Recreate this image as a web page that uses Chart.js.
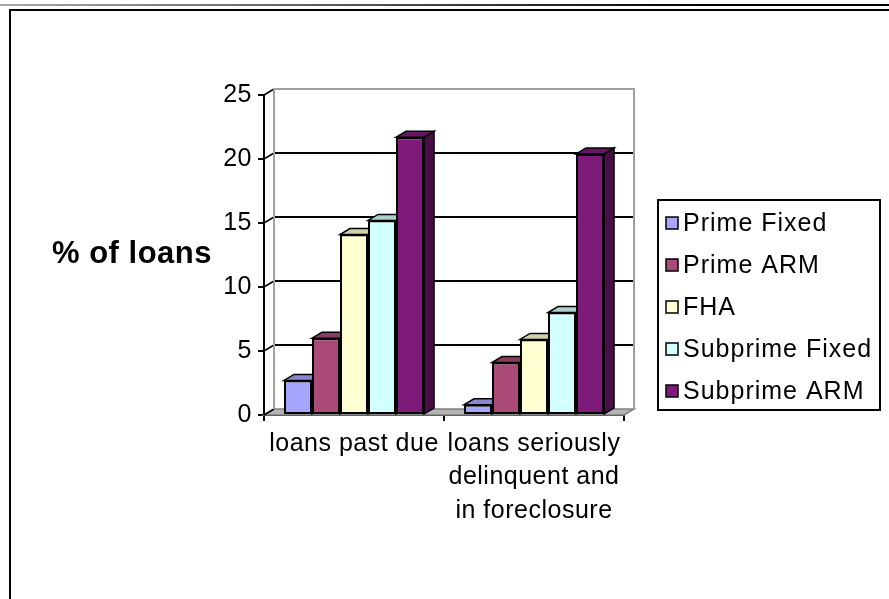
<!DOCTYPE html>
<html>
<head>
<meta charset="utf-8">
<title>Loan delinquency by type</title>
<script src="https://cdn.jsdelivr.net/npm/chart.js@4.4.1/dist/chart.umd.min.js"></script>
<style>
  html, body { margin: 0; padding: 0; background: #fff; overflow: hidden; }
  #wrap { position: relative; width: 889px; height: 599px; }
  #topRule { position: absolute; left: 0; top: 4px; width: 889px; height: 2px;
             background: linear-gradient(to right, #a8a8a8, #000 80%); }
  #frame { position: absolute; left: 9px; top: 9px; width: 900px; height: 620px;
           border-left: 2px solid #000; border-top: 2px solid #000; }
  #chart { position: absolute; left: 0; top: 0; }
</style>
</head>
<body>
<div id="wrap">
  <div id="topRule"></div>
  <div id="frame"></div>
  <canvas id="chart" width="889" height="599"></canvas>
</div>
<script>
// categories and series values (percent of loans)
const categories = [['loans past due'], ['loans seriously', 'delinquent and', 'in foreclosure']];
const seriesNames = ['Prime Fixed', 'Prime ARM', 'FHA', 'Subprime Fixed', 'Subprime ARM'];
const primeFixed = [2.7, 0.8];
const primeArm = [6.0, 4.1];
const fha = [14.1, 5.9];
const subprimeFixed = [15.2, 8.0];
const subprimeArm = [21.7, 20.4];
const yTicks = [0, 5, 10, 15, 20, 25];
const yTitle = '% of loans';

const seriesValues = [primeFixed, primeArm, fha, subprimeFixed, subprimeArm];
const seriesColors = ['#A6A6FF', '#A94A77', '#FFFFD2', '#D2FFFF', '#7E1A7A'];

// depth of the fake 3d extrusion
const DX = 10, DY = -6;
const FONT = '"Liberation Sans", Arial, sans-serif';

function shade(hex, f) {
    const n = parseInt(hex.slice(1), 16);
    const r = Math.round(((n >> 16) & 255) * f);
    const g = Math.round(((n >> 8) & 255) * f);
    const b = Math.round((n & 255) * f);
    return `rgb(${r},${g},${b})`;
}

function poly(ctx, pts, fill, stroke, lw) {
    ctx.beginPath();
    ctx.moveTo(pts[0][0], pts[0][1]);
    for (let i = 1; i < pts.length; i++) ctx.lineTo(pts[i][0], pts[i][1]);
    ctx.closePath();
    if (fill) { ctx.fillStyle = fill; ctx.fill(); }
    if (stroke) { ctx.strokeStyle = stroke; ctx.lineWidth = lw; ctx.stroke(); }
}

// back wall, floor, and top/side faces of the bars
const depthPlugin = {
    id: 'depth',
    beforeDraw(chart) {
        // slightly looser text, like the old office renderer
        chart.ctx.letterSpacing = '0.5px';
    },
    beforeDatasetsDraw(chart) {
        const ctx = chart.ctx;
        const ca = chart.chartArea;
        const y = chart.scales.y;
        ctx.save();

        // floor
        poly(ctx, [[ca.left, ca.bottom], [ca.right, ca.bottom],
                   [ca.right + DX, ca.bottom + DY], [ca.left + DX, ca.bottom + DY]],
             '#b4b4b4', '#808080', 1.5);

        // wall gridlines and the little connectors to the axis
        yTicks.forEach(v => {
            const py = y.getPixelForValue(v);
            ctx.strokeStyle = '#000';
            ctx.lineWidth = 1.5;
            ctx.beginPath();
            ctx.moveTo(ca.left, py);
            ctx.lineTo(ca.left + DX, py + DY);
            ctx.stroke();
            if (v > 0 && v < y.max) {
                ctx.lineWidth = 2;
                ctx.beginPath();
                ctx.moveTo(ca.left + DX, py + DY);
                ctx.lineTo(ca.right + DX, py + DY);
                ctx.stroke();
            }
        });

        // wall edges
        ctx.strokeStyle = '#a0a0a0';
        ctx.lineWidth = 2;
        ctx.beginPath();
        ctx.moveTo(ca.left + DX, ca.bottom + DY);
        ctx.lineTo(ca.left + DX, ca.top + DY);
        ctx.lineTo(ca.right + DX, ca.top + DY);
        ctx.lineTo(ca.right + DX, ca.bottom + DY);
        ctx.stroke();

        // bar tops and sides, left to right so neighbours overlap correctly
        chart.data.datasets.forEach((ds, i) => {
            const meta = chart.getDatasetMeta(i);
            meta.data.forEach(el => {
                const p = el.getProps(['x', 'y', 'base', 'width'], true);
                const l = p.x - p.width / 2, r = p.x + p.width / 2;
                poly(ctx, [[r, p.y], [r + DX, p.y + DY], [r + DX, p.base + DY], [r, p.base]],
                     shade(seriesColors[i], 0.58), '#000', 1.5);
                poly(ctx, [[l, p.y], [r, p.y], [r + DX, p.y + DY], [l + DX, p.y + DY]],
                     shade(seriesColors[i], 0.82), '#000', 1.5);
            });
        });
        ctx.restore();
    },
    afterDraw(chart) {
        const ctx = chart.ctx;
        ctx.save();

        // axis title, horizontal
        ctx.fillStyle = '#000';
        ctx.font = `bold 31px ${FONT}`;
        ctx.textBaseline = 'alphabetic';
        ctx.textAlign = 'left';
        ctx.fillText(yTitle, 52, 263);

        // legend box
        ctx.strokeStyle = '#000';
        ctx.lineWidth = 2;
        ctx.strokeRect(658, 200, 222, 210);
        ctx.font = `25px ${FONT}`;
        ctx.letterSpacing = '1px';
        ctx.textBaseline = 'middle';
        chart.data.datasets.forEach((ds, i) => {
            const cy = 223 + i * 42;
            ctx.fillStyle = ds.backgroundColor;
            ctx.fillRect(666, cy - 6, 12, 12);
            ctx.lineWidth = 1.5;
            ctx.strokeRect(666, cy - 6, 12, 12);
            ctx.fillStyle = '#000';
            ctx.fillText(ds.label, 683, cy + 1);
        });
        ctx.restore();
        ctx.letterSpacing = '0px';
    }
};

new Chart(document.getElementById('chart'), {
    type: 'bar',
    data: {
        labels: categories,
        datasets: seriesNames.map((name, i) => ({
            label: name,
            data: seriesValues[i],
            backgroundColor: seriesColors[i],
            borderColor: '#000',
            borderWidth: 2,
            borderSkipped: false,
            categoryPercentage: 0.778,
            barPercentage: 1.0
        }))
    },
    options: {
        responsive: false,
        animation: false,
        devicePixelRatio: 1,
        layout: { padding: { left: 204, right: 265, top: 95, bottom: 64 } },
        plugins: {
            legend: { display: false },
            tooltip: { enabled: false }
        },
        scales: {
            x: {
                afterFit: s => { s.height = 120; },
                grid: { offset: true, drawOnChartArea: false, drawTicks: true,
                        tickLength: 6, color: '#000', lineWidth: 2 },
                border: { color: '#000', width: 2 },
                ticks: { color: '#000', padding: 6, maxRotation: 0, autoSkip: false,
                         font: { family: FONT, size: 25, lineHeight: 1.34 } }
            },
            y: {
                min: 0,
                max: 25,
                afterFit: s => { s.width = 60; },
                afterBuildTicks: s => { s.ticks = yTicks.map(v => ({ value: v })); },
                grid: { drawOnChartArea: false, drawTicks: true, tickLength: 6,
                        color: '#000', lineWidth: 2 },
                border: { color: '#000', width: 2 },
                ticks: { color: '#000', padding: 6,
                         font: { family: FONT, size: 25 } }
            }
        }
    },
    plugins: [depthPlugin]
});
</script>
</body>
</html>
